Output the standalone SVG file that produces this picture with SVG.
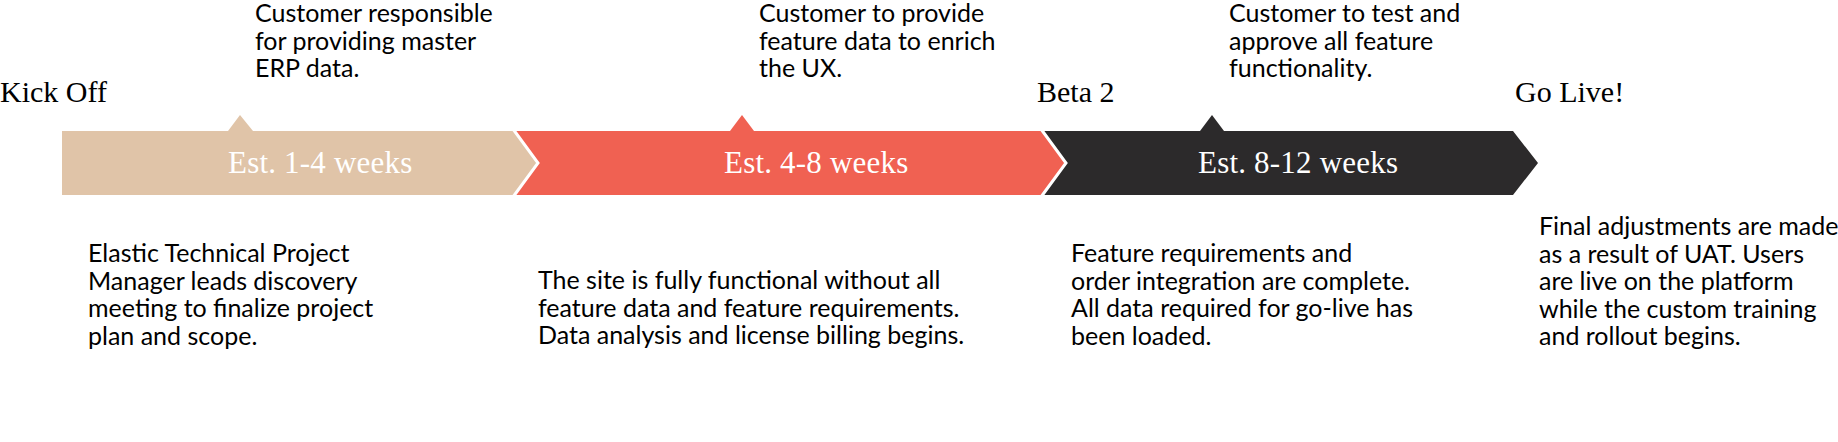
<svg xmlns="http://www.w3.org/2000/svg" width="1838" height="442" viewBox="0 0 1838 442">
<style>
.ms{font-family:"Liberation Serif","Times New Roman",serif;font-size:30px;fill:#000}
.est{font-family:"Liberation Serif","Times New Roman",serif;font-size:31px;letter-spacing:0.2px;fill:#fff}
.note{font-family:Lato,"Noto Sans",sans-serif;font-size:25px;fill:#000}
.sep{fill:none;stroke:#fff;stroke-width:3}
</style>
<rect width="1838" height="442" fill="#fff"/>
<g id="phase1">
<polygon points="62,131 513,131 538,163 513,195 62,195" fill="#E0C4A8"/>
<polygon points="228,131 240,115 253,131" fill="#E0C4A8"/>
<text class="est" x="228" y="173">Est. 1-4 weeks</text>
</g>
<g id="phase2">
<polygon points="513,131 1041,131 1066,163 1041,195 513,195 538,163" fill="#F06152"/>
<polygon points="730,131 742,115 754,131" fill="#F06152"/>
<text class="est" x="724" y="173">Est. 4-8 weeks</text>
</g>
<g id="phase3">
<polygon points="1041,131 1513,131 1538,163 1513,195 1041,195 1066,163" fill="#2C2A2B"/>
<polygon points="1200,131 1212,115 1224,131" fill="#2C2A2B"/>
<text class="est" x="1198" y="173">Est. 8-12 weeks</text>
</g>
<g id="connectors">
<polyline class="sep" points="513,129 538,163 513,197"/>
<polyline class="sep" points="1041,129 1066,163 1041,197"/>
</g>
<g id="kickoff"><text class="ms" x="0" y="102">Kick Off</text></g>
<g id="beta2"><text class="ms" x="1037" y="102">Beta 2</text></g>
<g id="golive"><text class="ms" x="1515" y="102">Go Live!</text></g>
<g id="note-top-1"><text class="note" x="255" y="22"><tspan x="255">Customer responsible</tspan><tspan x="255" dy="27.5">for providing master</tspan><tspan x="255" dy="27.5">ERP data.</tspan></text></g>
<g id="note-top-2"><text class="note" x="759" y="22"><tspan x="759">Customer to provide</tspan><tspan x="759" dy="27.5">feature data to enrich</tspan><tspan x="759" dy="27.5">the UX.</tspan></text></g>
<g id="note-top-3"><text class="note" x="1229" y="22"><tspan x="1229">Customer to test and</tspan><tspan x="1229" dy="27.5">approve all feature</tspan><tspan x="1229" dy="27.5">functionality.</tspan></text></g>
<g id="note-bottom-1"><text class="note" x="88" y="262.3"><tspan x="88">Elastic Technical Project</tspan><tspan x="88" dy="27.5">Manager leads discovery</tspan><tspan x="88" dy="27.5">meeting to finalize project</tspan><tspan x="88" dy="27.5">plan and scope.</tspan></text></g>
<g id="note-bottom-2"><text class="note" x="538" y="289.1"><tspan x="538">The site is fully functional without all</tspan><tspan x="538" dy="27.5">feature data and feature requirements.</tspan><tspan x="538" dy="27.5">Data analysis and license billing begins.</tspan></text></g>
<g id="note-bottom-3"><text class="note" x="1071" y="262.3"><tspan x="1071">Feature requirements and</tspan><tspan x="1071" dy="27.5">order integration are complete.</tspan><tspan x="1071" dy="27.5">All data required for go-live has</tspan><tspan x="1071" dy="27.5">been loaded.</tspan></text></g>
<g id="note-bottom-4"><text class="note" x="1539" y="235.3"><tspan x="1539">Final adjustments are made</tspan><tspan x="1539" dy="27.5">as a result of UAT. Users</tspan><tspan x="1539" dy="27.5">are live on the platform</tspan><tspan x="1539" dy="27.5">while the custom training</tspan><tspan x="1539" dy="27.5">and rollout begins.</tspan></text></g>
</svg>
